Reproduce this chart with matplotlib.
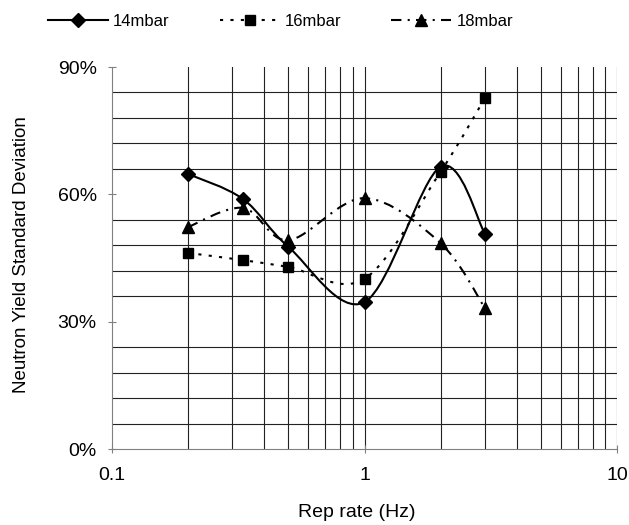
import numpy as np
import matplotlib.pyplot as plt
from matplotlib.path import Path
from matplotlib.patches import PathPatch
from matplotlib.lines import Line2D
from matplotlib.ticker import FixedLocator, PercentFormatter, NullFormatter

# data
rep_rate = [0.2, 0.33, 0.5, 1, 2, 3]
yield_14mbar = [64.8, 58.9, 47.6, 34.6, 66.5, 50.7]
yield_16mbar = [46.2, 44.5, 42.9, 40.1, 65.3, 82.7]
yield_18mbar = [52.3, 56.8, 49.2, 59.1, 48.5, 33.2]
series_names = ["14mbar", "16mbar", "18mbar"]

plt.rcParams['font.family'] = ['Liberation Sans', 'DejaVu Sans']
plt.rcParams['font.size'] = 14


def smooth_path(xs, ys):
    # Excel-like smoothed line: cubic bezier (Catmull-Rom) in log-x space
    u = np.log10(np.asarray(xs, float))
    v = np.asarray(ys, float)
    pts = np.column_stack([u, v])
    n = len(pts)
    verts = [pts[0]]
    codes = [Path.MOVETO]
    for i in range(n - 1):
        p0 = pts[i - 1] if i > 0 else pts[i]
        p1 = pts[i]
        p2 = pts[i + 1]
        p3 = pts[i + 2] if i + 2 < n else pts[i + 1]
        c1 = p1 + (p2 - p0) / 6.0
        c2 = p2 - (p3 - p1) / 6.0
        verts += [c1, c2, p2]
        codes += [Path.CURVE4] * 3
    verts = np.array(verts)
    verts[:, 0] = 10 ** verts[:, 0]
    return Path(verts, codes)


fig = plt.figure(figsize=(6.29, 5.25), dpi=100)
ax = fig.add_axes([112 / 629, 1 - 449 / 525, 505 / 629, 382 / 525])

styles = [
    dict(ls='-', marker='D', ms=7.5),
    dict(ls=(0, (1.5, 3.5)), marker='s', ms=7.5),
    dict(ls=(0, (5, 3, 1, 3)), marker='^', ms=9),
]
all_series = [yield_14mbar, yield_16mbar, yield_18mbar]

handles = []
for k, (vals, st) in enumerate(zip(all_series, styles)):
    patch = PathPatch(smooth_path(rep_rate, vals), transform=ax.transData,
                      fill=False, edgecolor='black', lw=1.5, linestyle=st['ls'],
                      zorder=3 + k)
    ax.add_patch(patch)
    ax.plot(rep_rate, vals, linestyle='none', marker=st['marker'], ms=st['ms'],
            color='black', zorder=3 + k)
    handles.append(Line2D([], [], color='black', lw=1.5, linestyle=st['ls'],
                          marker=st['marker'], ms=st['ms']))

ax.set_xscale('log')
ax.set_xlim(0.1, 10)
ax.set_ylim(0, 90)

# gridlines: vertical at every log position, horizontal every 6% except majors
vgrid = [m * 10.0 ** e for e in (-1, 0) for m in range(2, 10)] + [1, 10]
for xv in vgrid:
    ax.axvline(xv, color='#222222', lw=0.8, zorder=1)
for yv in range(6, 90, 6):
    if yv % 30:
        ax.axhline(yv, color='#222222', lw=0.8, zorder=1)

ax.yaxis.set_major_locator(FixedLocator([0, 30, 60, 90]))
ax.yaxis.set_major_formatter(PercentFormatter(decimals=0))
ax.xaxis.set_major_locator(FixedLocator([0.1, 1, 10]))
ax.xaxis.set_major_formatter(plt.FuncFormatter(lambda v, p: f"{v:g}"))
ax.xaxis.set_minor_formatter(NullFormatter())
ax.tick_params(axis='x', which='minor', length=0)
ax.tick_params(which='major', direction='inout', length=6, width=0.8,
               color='#808080')
ax.tick_params(axis='y', pad=8)
ax.tick_params(axis='x', pad=10)

for side in ('top', 'right'):
    ax.spines[side].set_visible(False)
for side in ('left', 'bottom'):
    ax.spines[side].set_color('#808080')
    ax.spines[side].set_linewidth(0.8)

ax.set_xlabel("Rep rate (Hz)")
ax.set_ylabel("Neutron Yield Standard Deviation", fontsize=13.5)
ax.xaxis.set_label_coords(0.485, -0.143)
ax.yaxis.set_label_coords(-0.163, 0.51)

fig.legend(handles, series_names, loc='center left',
           bbox_to_anchor=(48 / 629, 1 - 21 / 525), ncol=3, frameon=False,
           borderaxespad=0, borderpad=0, handlelength=3.6, fontsize=12,
           handletextpad=0.3, columnspacing=3.0)

fig.savefig("out.png", dpi=100)
